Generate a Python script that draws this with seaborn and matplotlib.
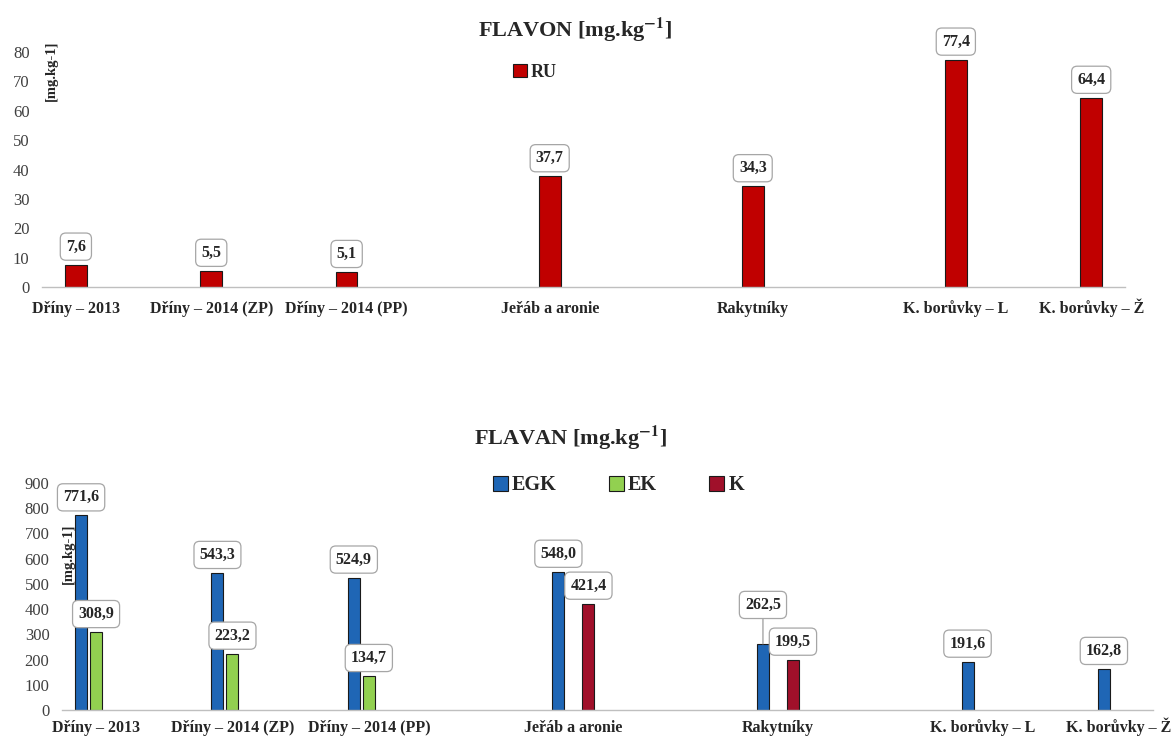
#!/usr/bin/env python3
"""Two-panel bar chart: flavone (RU) and flavan (EGK, EK, K) content by fruit."""
import matplotlib
matplotlib.use("Agg")
import matplotlib.pyplot as plt
import pandas as pd
import seaborn as sns

# --- data ---
categories = ["Dříny – 2013", "Dříny – 2014 (ZP)", "Dříny – 2014 (PP)",
              "Jeřáb a aronie", "Rakytníky", "K. borůvky – L", "K. borůvky – Ž"]
ru = [7.6, 5.5, 5.1, 37.7, 34.3, 77.4, 64.4]
egk = [771.6, 543.3, 524.9, 548.0, 262.5, 191.6, 162.8]
ek = [308.9, 223.2, 134.7, None, None, None, None]
k = [None, None, None, 421.4, 199.5, None, None]
compounds = ["EGK", "EK", "K"]

# slot layout of the category axis (the original leaves empty slots between groups)
slots = [0, 2, 4, 7, 10, 13, 15]
n_slots = 16

sns.set_theme(style="white")
plt.rcParams["font.family"] = ["Liberation Serif", "DejaVu Serif"]
plt.rcParams["mathtext.fontset"] = "stix"

order = [f"_gap{i}" for i in range(n_slots)]
for s, c in zip(slots, categories):
    order[s] = c

flavon = pd.DataFrame({"cat": categories, "val": ru})
rows = []
for comp, vals in zip(compounds, [egk, ek, k]):
    for c, v in zip(categories, vals):
        if v is not None:
            rows.append((c, comp, v))
flavan = pd.DataFrame(rows, columns=["cat", "comp", "val"])

palette = {"EGK": "#1F66B5", "EK": "#92D050", "K": "#A0102A"}

fig = plt.figure(figsize=(11.74, 7.38), dpi=100)
ax1 = fig.add_axes([0.0358, 0.6111, 0.9225, 0.3184])
ax2 = fig.add_axes([0.0528, 0.0379, 0.9293, 0.3076])

sns.barplot(data=flavon, x="cat", y="val", order=order, color="#C00000",
            width=0.32, edgecolor="#1a1a1a", linewidth=0.8, saturation=1,
            ax=ax1, label="RU")
sns.barplot(data=flavan, x="cat", y="val", hue="comp", hue_order=compounds,
            order=order, palette=palette, width=0.66, gap=0.2,
            edgecolor="#1a1a1a", linewidth=0.8, saturation=1, ax=ax2)

ax1.set_ylim(0, 80)
ax1.set_yticks(range(0, 81, 10))
ax2.set_ylim(0, 900)
ax2.set_yticks(range(0, 901, 100))

box = dict(boxstyle="round,pad=0.35,rounding_size=0.35", fc="white",
           ec="#A6A6A6", lw=0.9)
lifted = {("Rakytníky", "EGK")}


def label_bars(ax, names):
    for cont, name in zip(ax.containers, names):
        for bar in cont:
            h = bar.get_height()
            if pd.isna(h):
                continue
            xc = bar.get_x() + bar.get_width() / 2
            cat = order[int(round(xc))]
            txt = f"{h:.1f}".replace(".", ",")
            dy = 13
            arrow = None
            if (cat, name) in lifted:
                dy = 28
                arrow = dict(arrowstyle="-", color="#A6A6A6", lw=1.0,
                             shrinkA=0, shrinkB=0)
            ax.annotate(txt, (xc, h), xytext=(0, dy), textcoords="offset points",
                        ha="center", va="center", fontsize=11.5,
                        fontweight="bold", color="#262626", bbox=box,
                        arrowprops=arrow, annotation_clip=False, zorder=5)


label_bars(ax1, ["RU"])
label_bars(ax2, compounds)

for ax, pad in ((ax1, 19), (ax2, 16)):
    ax.set_xlim(-0.5, n_slots - 0.5)
    ax.set_xticks(slots)
    ax.set_xticklabels(categories, fontsize=11.5, fontweight="bold",
                       color="#262626", va="baseline")
    ax.tick_params(axis="x", length=0, pad=pad)
    ax.tick_params(axis="y", length=0, labelsize=12, labelcolor="#404040", pad=9)
    ax.set_xlabel("")
    ax.set_ylabel("")
    for side in ("left", "right", "top"):
        ax.spines[side].set_visible(False)
    ax.spines["bottom"].set_color("#BFBFBF")
    ax.spines["bottom"].set_linewidth(1.0)
    ax.grid(False)

ax1.text(0.009, 0.92, "[mg.kg-1]", transform=ax1.transAxes, rotation=90,
         ha="center", va="center", fontsize=10.5, fontweight="bold",
         color="#262626")
ax2.text(0.0055, 0.69, "[mg.kg-1]", transform=ax2.transAxes, rotation=90,
         ha="center", va="center", fontsize=10.5, fontweight="bold",
         color="#262626", zorder=6)

ax1.legend(loc="center", bbox_to_anchor=(0.455, 0.915), frameon=False,
           handlelength=0.75, handleheight=0.75, handletextpad=0.2,
           prop={"weight": "bold", "size": 13})
leg = ax2.legend(loc="center", bbox_to_anchor=(0.51, 0.99), frameon=False,
                 ncol=3, handlelength=0.75, handleheight=0.75,
                 handletextpad=0.2, columnspacing=2.6,
                 prop={"weight": "bold", "size": 14.5})
for t in leg.get_texts():
    t.set_color("#262626")

fig.text(0.49, 0.959, r"FLAVON [mg.kg$^{\mathbf{-1}}$]", ha="center",
         va="center", fontsize=16, fontweight="bold", color="#262626")
fig.text(0.486, 0.406, r"FLAVAN [mg.kg$^{\mathbf{-1}}$]", ha="center",
         va="center", fontsize=16, fontweight="bold", color="#262626")

fig.savefig("out.png", dpi=100, facecolor="white")
